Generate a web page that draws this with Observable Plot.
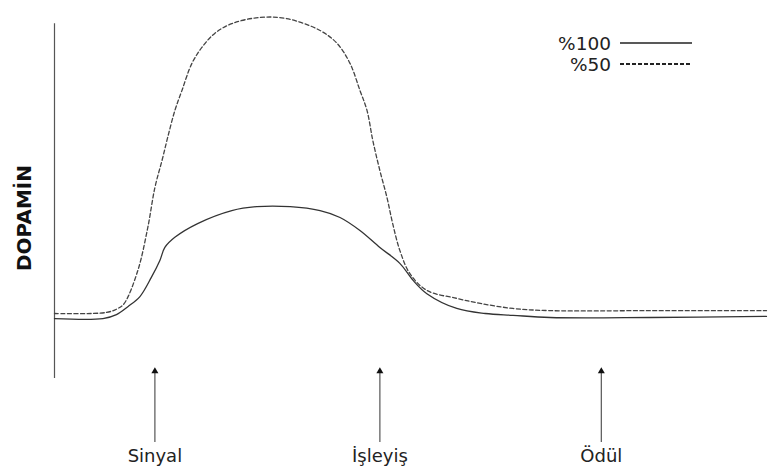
<!DOCTYPE html>
<html>
<head>
<meta charset="utf-8">
<script src="https://cdn.jsdelivr.net/npm/d3@7"></script>
<script src="https://cdn.jsdelivr.net/npm/@observablehq/plot@0.6"></script>
<style>
  html, body { margin: 0; padding: 0; background: #fff; }
  #chart { width: 774px; height: 472px; }
</style>
</head>
<body>
<div id="chart"></div>
<script>
// time (0–100) and dopamine level (0–100)
const time100 = [0, 6.8, 8.7, 10.3, 12.0, 13.6, 14.8, 15.5, 16.9, 20.1, 24.9, 28.4, 33.1, 37.3, 40.1, 42.9, 45.7, 48.5, 50.4, 52.3, 56.5, 60.5, 64.4, 69.6, 83.7, 100];
const level100 = [16.6, 16.6, 17.7, 19.9, 22.7, 28.0, 32.7, 36.3, 39.1, 42.9, 46.5, 47.6, 47.6, 46.5, 44.6, 41.0, 36.3, 31.9, 27.1, 23.5, 19.4, 18.0, 17.5, 16.9, 16.9, 17.2];

const time50 = [0, 7.3, 8.9, 9.8, 11.7, 13.1, 14.1, 15.1, 15.9, 16.9, 17.9, 19.3, 20.7, 22.5, 24.9, 28.8, 32.6, 37.3, 39.7, 41.5, 42.9, 43.9, 44.7, 45.7, 46.7, 47.5, 48.5, 49.9, 52.3, 56.5, 59.8, 64.4, 69.6, 83.7, 100];
const level50 = [18.0, 18.3, 19.4, 20.8, 29.9, 41.8, 52.9, 60.4, 66.8, 74.2, 79.8, 87.3, 91.7, 95.6, 98.3, 100, 99.7, 96.4, 92.8, 87.3, 79.8, 74.2, 66.0, 57.6, 50.1, 42.9, 35.5, 29.1, 24.4, 22.2, 20.8, 19.4, 18.8, 18.8, 18.8];

const eventLabels = ["Sinyal", "İşleyiş", "Ödül"];
const eventTimes = [14.1, 45.7, 76.8];

const seriesNames = ["%100", "%50"];
const yLabel = "DOPAMİN";

const s100 = time100.map((t, i) => ({t, v: level100[i]}));
const s50 = time50.map((t, i) => ({t, v: level50[i]}));
const events = eventLabels.map((label, i) => ({label, t: eventTimes[i]}));

const FONT = "'DejaVu Sans', sans-serif";
const axisTop = 98.3;     // top of the drawn y axis line
const arrowTip = 2.0;     // arrow head level
const arrowBase = -17.7;  // arrow tail level

const chart = Plot.plot({
  width: 774,
  height: 472,
  marginLeft: 54,
  marginRight: 8,
  marginTop: 17,
  marginBottom: 94,
  x: {domain: [0, 100], axis: null},
  y: {domain: [0, 100], axis: null},
  style: {fontFamily: FONT, background: "#fff"},
  marks: [
    Plot.ruleX([0], {y1: 0, y2: axisTop, stroke: "#555", strokeWidth: 1.2}),
    Plot.line(s50, {x: "t", y: "v", curve: "catmull-rom", stroke: "#444", strokeWidth: 1.3, strokeDasharray: "4,2.5"}),
    Plot.line(s100, {x: "t", y: "v", curve: "catmull-rom", stroke: "#333", strokeWidth: 1.3}),
    Plot.ruleX(events, {x: "t", y1: arrowBase, y2: arrowTip, stroke: "#555", strokeWidth: 1.2}),
    Plot.dot(events, {x: "t", y: arrowTip, symbol: "triangle", r: 2.6, fill: "#111", stroke: "none"}),
    Plot.text(events, {x: "t", text: "label", frameAnchor: "bottom", dy: 83, fontSize: 18, fill: "#222"}),
    Plot.text([yLabel], {frameAnchor: "left", textAnchor: "middle", dx: -30, dy: 20, rotate: -90, fontSize: 20, fontWeight: "bold", fill: "#111"})
  ]
});

document.getElementById("chart").appendChild(chart);

// legend inside the chart, top right
const svg = d3.select(chart);
const leg = svg.append("g").attr("font-family", FONT).attr("font-size", 18.5).attr("fill", "#222");
const legendItems = seriesNames.map((name, i) => ({name, dash: i === 0 ? null : "4,2"}));
legendItems.forEach((d, i) => {
  const y = 43 + i * 21;
  leg.append("text").attr("x", 611).attr("y", y).attr("dy", "0.36em").attr("text-anchor", "end").text(d.name);
  leg.append("line").attr("x1", 620).attr("x2", 692).attr("y1", y).attr("y2", y)
    .attr("stroke", "#222").attr("stroke-width", i === 0 ? 1.3 : 1.8)
    .attr("stroke-dasharray", d.dash);
});
</script>
</body>
</html>
